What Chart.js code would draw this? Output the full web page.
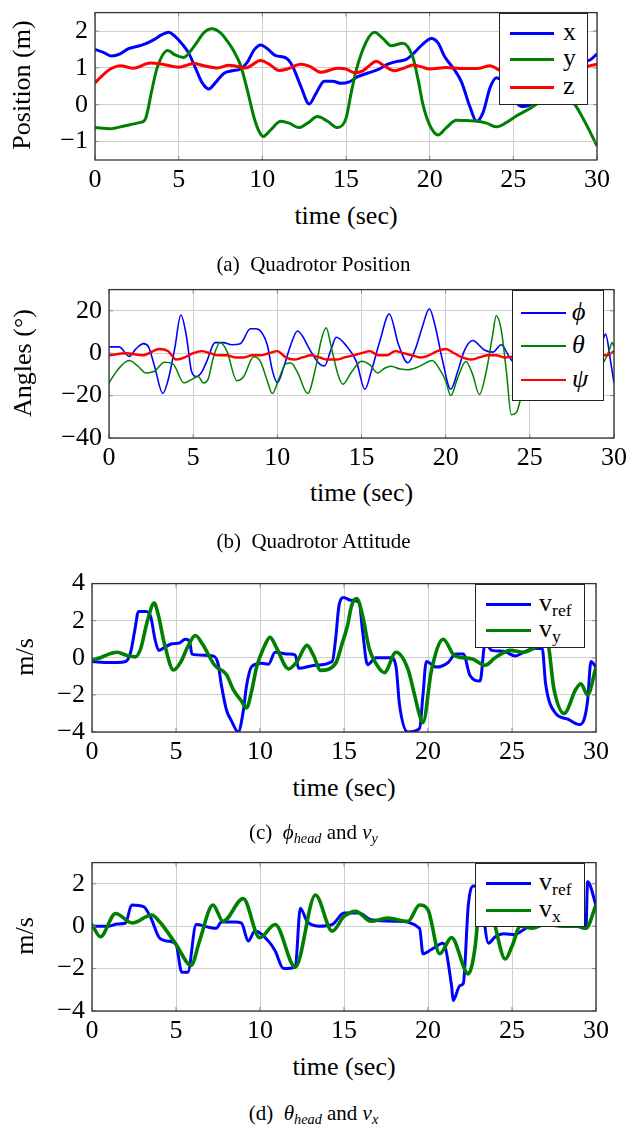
<!DOCTYPE html>
<html lang="en">
<head>
<meta charset="UTF-8">
<title>Quadrotor flight data</title>
<script src="https://cdn.jsdelivr.net/npm/chart.js"></script>
<style>
    body { margin: 0; background: #fff; }
    #fig { position: relative; width: 627px; height: 1127px; overflow: hidden; font-family: "Liberation Serif", "Times New Roman", Times, "DejaVu Serif", serif; color: #000; }
    .panel { position: absolute; left: 0; width: 660px; }
    .ylab { position: absolute; white-space: nowrap; font-size: 26px; line-height: 1; transform: translate(-50%, -50%) rotate(-90deg); }
    .xlab { position: absolute; font-size: 26px; line-height: 1; transform: translate(-50%, -50%); white-space: nowrap; }
    .cap { position: absolute; left: 0; width: 627px; text-align: center; font-size: 21px; line-height: 1; }
    .legend { position: absolute; background: #fff; border: 1.3px solid #222; box-sizing: border-box; }
    .legend .sw { position: absolute; }
    .legend .lb { position: absolute; font-size: 26px; line-height: 1; transform: translateY(-55%); white-space: nowrap; }
    sub { font-size: 0.68em; vertical-align: -0.3em; line-height: 0; }
</style>
</head>
<body>
<div id="fig">
    <div class="panel" id="pA"><canvas id="cA"></canvas></div>
    <div class="panel" id="pB"><canvas id="cB"></canvas></div>
    <div class="panel" id="pC"><canvas id="cC"></canvas></div>
    <div class="panel" id="pD"><canvas id="cD"></canvas></div>
</div>

<script>
    // time axis, shared by every panel
    const timeTicks = [0, 5, 10, 15, 20, 25, 30];

    // (a) quadrotor position, [time, metres]
    const posTicks = [-1, 0, 1, 2];
    const posX = [[0,1.5],[0.5,1.42],[1,1.32],[1.5,1.38],[2,1.52],[2.5,1.58],[3,1.65],[3.5,1.76],[4,1.9],[4.4,1.97],[4.8,1.85],[5.2,1.65],[5.6,1.4],[6,1.0],[6.4,0.6],[6.8,0.43],[7.2,0.6],[7.7,0.85],[8.2,0.92],[8.7,0.97],[9.1,1.15],[9.5,1.48],[9.9,1.62],[10.3,1.52],[10.8,1.33],[11.4,1.27],[11.8,1.05],[12.3,0.5],[12.8,0.02],[13.2,0.3],[13.7,0.64],[14.2,0.64],[14.7,0.58],[15.2,0.62],[15.7,0.76],[16.3,0.86],[16.9,0.95],[17.5,1.1],[18,1.17],[18.6,1.23],[19.1,1.42],[19.6,1.65],[20.1,1.8],[20.5,1.68],[20.9,1.3],[21.4,1.0],[21.9,0.62],[22.4,-0.05],[22.8,-0.45],[23.2,-0.2],[23.6,0.45],[24,0.73],[24.5,0.55],[25,0.15],[25.5,-0.05],[26,0.0],[26.5,0.3],[27,0.7],[27.5,1.0],[28,1.12],[28.6,1.15],[29.1,1.15],[29.6,1.22],[30,1.38]];
    const posY = [[0,-0.62],[0.9,-0.65],[1.8,-0.57],[2.7,-0.48],[3.0,-0.4],[3.4,0.4],[3.7,0.98],[4.35,1.47],[4.8,1.35],[5.3,1.28],[5.7,1.45],[6.1,1.7],[6.5,1.95],[6.97,2.06],[7.5,1.95],[7.9,1.73],[8.3,1.45],[8.7,1.07],[9.1,0.4],[9.5,-0.34],[9.8,-0.72],[10.06,-0.86],[10.5,-0.68],[11.1,-0.45],[11.6,-0.5],[12.2,-0.62],[12.7,-0.5],[13.3,-0.32],[13.9,-0.45],[14.5,-0.62],[15.0,-0.37],[15.3,0.3],[15.6,0.92],[16.2,1.7],[16.7,1.97],[17.2,1.8],[17.7,1.6],[18.4,1.67],[19.0,1.28],[19.3,0.7],[19.6,0.0],[20.0,-0.55],[20.5,-0.82],[21.0,-0.62],[21.6,-0.42],[22.2,-0.43],[22.8,-0.44],[23.4,-0.5],[24.0,-0.6],[24.6,-0.48],[25.2,-0.3],[26.0,-0.1],[26.5,0.05],[27.2,0.15],[28.0,0.2],[28.6,0.05],[29.2,-0.4],[29.6,-0.75],[30,-1.12]];
    const posZ = [[0,0.59],[0.5,0.82],[1,0.99],[1.5,1.06],[2.3,0.99],[3.3,1.13],[4,1.1],[5,1.02],[5.9,1.12],[6.5,1.06],[7.3,1.0],[8,1.07],[8.5,1.04],[9,1.0],[9.9,1.2],[10.5,1.07],[11,0.93],[11.5,0.97],[12.3,1.1],[12.8,1.05],[13.5,0.88],[14.5,0.99],[15,0.97],[15.5,0.87],[16,0.92],[16.5,1.1],[16.8,1.18],[17.3,1.05],[17.9,0.92],[18.5,1.0],[19,1.08],[19.5,1.03],[20,0.97],[21,1.01],[22,0.98],[23,0.99],[23.6,1.06],[24.2,0.93],[24.8,0.86],[25.5,0.86],[26.5,0.9],[27.5,0.95],[28.5,0.98],[29.2,1.01],[29.6,1.06],[30,1.1]];

    // (b) quadrotor attitude, [time, degrees]
    const angTicks = [-40, -20, 0, 20];
    const angPhi = [[0,3],[0.6,3],[1.2,-1.5],[1.6,2],[2.05,4.5],[2.35,3],[2.7,-6],[3.2,-19],[3.5,-13],[3.9,2],[4.27,18],[4.6,8],[4.9,-8.5],[5.2,-11],[5.5,-9],[5.8,-4],[6.3,5],[6.8,5],[7.3,4],[7.8,4.5],[8.4,11.5],[8.7,11.5],[9.0,10.5],[9.4,4],[9.7,-8],[10.0,-14],[10.4,-6],[10.8,4],[11.2,10.5],[11.5,8],[11.9,2],[12.5,-5],[12.8,-6],[13.2,2],[13.5,7.5],[14.1,3.5],[14.7,-4],[15.2,-17],[15.6,-8],[16.1,6],[16.65,18.5],[17.2,4],[17.75,-4.5],[18.2,2],[18.6,12],[19.03,21],[19.4,12],[19.8,-3],[20.3,-17],[20.7,-9],[21.1,1],[21.6,6],[22.3,1.5],[22.8,0.5],[23.3,4],[23.8,-2],[24.3,-6],[24.8,3],[25.5,10],[26.3,18],[27.0,24],[27.6,28],[28.2,20],[28.8,12],[29.3,6],[29.5,9],[29.8,-4],[30,-14]];
    const angTheta = [[0,-14],[0.5,-8],[1.2,-3.5],[1.7,-6],[2.2,-9.3],[2.7,-8.5],[3.3,-4.3],[3.8,-5],[4.45,-14],[5.0,-12],[5.3,-11],[5.6,-14],[5.9,-12],[6.2,-2],[6.6,5],[7.0,1],[7.6,-13],[8.0,-11],[8.6,-1.7],[9.0,-4],[9.4,-13],[9.7,-19],[10.1,-12],[10.5,-5],[10.8,-4.6],[11.2,-9],[11.8,-19],[12.3,-6],[12.6,6],[12.9,12],[13.2,3],[13.6,-10],[13.9,-14.6],[14.4,-9],[15.0,-3.8],[15.5,-5.5],[15.96,-9.3],[16.4,-7],[16.75,-6.2],[17.3,-7.5],[17.75,-7.8],[18.5,-6],[19.2,-3.4],[19.6,-7],[20.0,-13],[20.3,-20],[20.7,-12],[21.2,-3.9],[21.6,-10],[22.0,-19.5],[22.4,-9],[22.8,9],[23.0,17.7],[23.3,11],[23.6,-8],[23.9,-29],[24.2,-28],[24.6,-17],[25.2,-6],[26.0,0],[27.0,-4],[28.0,-8],[29.0,-7],[29.4,-4],[29.7,1],[29.9,5],[30,3]];
    const angPsi = [[0,-1],[1,0],[2,-1],[3,2],[3.5,1],[4,-3],[4.5,-2],[5,0],[5.5,1],[6,0],[6.5,-1],[7,-1],[7.5,-2],[8,-2],[8.5,-1],[9,-1],[9.5,0],[10,1],[10.5,-2],[11,-3],[11.5,-2],[12,-1],[12.5,-2],[13,-3],[13.5,-3],[14,-2],[14.5,-1],[15,0],[15.5,1],[16,-1],[16.5,-1],[17,1],[17.5,0],[18,-1],[18.5,-2],[19,-1],[19.5,1],[20,2],[20.5,0],[21,-2],[21.5,-3],[22,-2],[22.5,-1],[23,-1],[23.5,-2],[24.5,-1],[25.5,0],[26.5,-1],[27.5,0],[28.5,-1],[29.3,-1],[29.6,-1],[30,1]];

    // (c) phi_head and v_y, [time, m/s]
    const velTicksC = [-4, -2, 0, 2, 4];
    const refC = [[0,-0.2],[1,-0.25],[1.5,-0.25],[2,-0.2],[2.3,0.3],[2.55,1.5],[2.77,2.5],[3.2,2.5],[3.5,2.2],[3.75,1.0],[3.97,0.4],[4.3,0.55],[4.76,0.76],[5.2,0.8],[5.55,1.0],[5.8,0.9],[5.95,0.2],[6.7,0.14],[7.2,0.1],[7.5,-0.3],[7.7,-1.46],[8.0,-2.8],[8.3,-3.4],[8.7,-4.0],[9.0,-2.9],[9.2,-1.5],[9.5,-0.48],[10.1,-0.3],[10.5,-0.35],[10.9,0.3],[11.7,0.2],[12.1,0.15],[12.3,-0.57],[13.3,-0.4],[14.3,-0.2],[14.5,1.0],[14.7,2.8],[14.98,3.25],[15.4,3.1],[15.9,3.0],[16.1,1.5],[16.4,-0.37],[16.9,0],[17.8,0],[18.1,-0.5],[18.3,-2.5],[18.8,-4.0],[19.5,-3.8],[19.7,-2.0],[19.9,-0.2],[20.5,-0.5],[21.2,-0.25],[21.65,0.2],[22.1,0.2],[22.5,-0.95],[23.1,-1.25],[23.4,0.8],[23.8,0.4],[24.5,0.35],[25.2,0.1],[25.7,0.3],[26.3,0.5],[26.8,0.5],[27.0,-1.4],[27.6,-3.0],[28.3,-3.3],[29.0,-3.6],[29.3,-3.3],[29.5,-2.3],[29.7,-0.2],[30,-0.5]];
    const velYC = [[0,-0.1],[0.5,0.0],[1,0.2],[1.5,0.3],[2,0.15],[2.58,0.05],[2.9,0.5],[3.3,2.0],[3.7,2.95],[3.95,2.3],[4.3,0.8],[4.86,-0.66],[5.3,-0.2],[5.7,0.6],[6.15,1.2],[6.6,0.7],[7.3,-0.4],[8.0,-0.9],[8.4,-1.7],[8.9,-2.34],[9.2,-2.7],[9.5,-1.8],[9.8,-0.5],[10.2,0.5],[10.6,1.1],[11.0,0.5],[11.7,-0.6],[12.2,-0.2],[12.8,0.67],[13.2,0.1],[13.6,-0.68],[14.5,-0.3],[14.9,0.8],[15.2,1.7],[15.45,2.8],[15.75,3.2],[16.1,2.3],[16.5,0.5],[16.9,-0.3],[17.4,-0.8],[18.1,0.3],[18.8,-0.6],[19.2,-2.0],[19.5,-3.1],[19.7,-3.5],[20.2,-0.7],[20.9,1.0],[21.6,0.1],[22.6,-0.05],[23.4,-0.4],[24.0,0],[24.9,0.4],[25.7,0.3],[26.5,0.6],[27.1,0.8],[27.5,-1.7],[28.1,-3.0],[28.8,-1.7],[29.1,-1.4],[29.5,-2.0],[30,-0.5]];

    // (d) theta_head and v_x, [time, m/s]
    const velTicksD = [-4, -2, 0, 2];
    const refD = [[0,0.0],[1,0.0],[1.5,0.1],[2,0.15],[2.36,1.0],[3.07,0.92],[3.5,0.4],[4.0,-0.54],[4.5,-0.7],[5.0,-0.85],[5.34,-2.17],[5.7,-2.17],[6.2,0.08],[6.9,-0.04],[7.4,-0.1],[7.7,0.2],[8.5,0.2],[8.9,0.15],[9.3,-0.7],[9.7,-0.23],[10.5,-0.7],[10.9,-1.16],[11.4,-2.0],[12.1,-1.93],[12.4,0.85],[12.8,0.23],[13.5,0],[14.3,0.08],[15.0,0.62],[15.9,0.62],[16.6,0.3],[18.1,0.23],[19.5,-0.1],[19.7,-1.3],[20.2,-1.1],[20.9,-0.8],[21.4,-2.8],[21.5,-3.5],[21.9,-2.8],[22.1,-2.7],[22.4,1.0],[22.7,1.9],[23.1,1.6],[23.6,-0.8],[24.0,-0.5],[24.5,-0.36],[25.2,-0.4],[25.5,-0.26],[26.5,0.2],[27.5,0.3],[28.5,0.1],[29.4,-0.1],[29.5,2.1],[30,1.0]];
    const velXD = [[0,0.08],[0.5,-0.5],[1.4,0.6],[2.4,0.15],[3.55,0.53],[4.0,0.23],[5.0,-0.85],[5.9,-1.85],[6.4,-0.7],[7.2,1.0],[7.8,0.23],[9.0,1.3],[9.98,-0.54],[10.9,0.08],[12.1,-1.93],[13.3,1.47],[14.3,-0.23],[15.0,0.46],[15.7,0.7],[16.6,0.23],[17.6,0.38],[18.8,0.23],[19.5,1.0],[20.0,0.77],[20.7,-1.3],[21.4,-0.54],[22.4,-2.25],[22.8,-1.0],[23.3,2.9],[23.6,1.5],[24.0,0],[24.6,-1.55],[25.0,-0.95],[25.5,0],[26.2,-0.1],[27.0,0.1],[28.0,0.0],[29.0,0.0],[29.4,-0.1],[30,1.0]];

    const BLUE = '#0000ff', GREEN = '#008000', RED = '#ff0000';
    const FONT = '"Liberation Serif", "Times New Roman", Times, "DejaVu Serif", serif';
    Chart.defaults.font.family = FONT;

    const PT = 20, XH = 40, CW = 660;

    // frame and inward tick marks, like pgfplots
    const framePlugin = {
        id: 'frame',
        afterDatasetsDraw(chart) {
            const { ctx, chartArea: a, scales } = chart;
            ctx.save();
            ctx.strokeStyle = '#888';
            ctx.lineWidth = 1;
            ctx.beginPath();
            scales.x.ticks.forEach(t => {
                const px = scales.x.getPixelForValue(t.value);
                ctx.moveTo(px, a.bottom); ctx.lineTo(px, a.bottom - 4);
                ctx.moveTo(px, a.top); ctx.lineTo(px, a.top + 4);
            });
            scales.y.ticks.forEach(t => {
                const py = scales.y.getPixelForValue(t.value);
                ctx.moveTo(a.left, py); ctx.lineTo(a.left + 4, py);
                ctx.moveTo(a.right, py); ctx.lineTo(a.right - 4, py);
            });
            ctx.stroke();
            ctx.strokeStyle = '#333';
            ctx.lineWidth = 1.3;
            ctx.strokeRect(a.left, a.top, a.right - a.left, a.bottom - a.top);
            ctx.restore();
        }
    };

    function line(pts, color, width, order) {
        return {
            data: pts.map(([x, y]) => ({ x, y })),
            borderColor: color,
            borderWidth: width,
            pointRadius: 0,
            cubicInterpolationMode: 'monotone',
            order: order
        };
    }

    function tickFont() { return { family: FONT, size: 26 }; }

    function makePanel(id, box, yMin, yMax, yTicks, datasets) {
        const wrap = document.getElementById('p' + id);
        wrap.style.top = (box.top - PT) + 'px';
        wrap.style.height = (box.bottom - box.top + PT + XH) + 'px';
        return new Chart(document.getElementById('c' + id), {
            type: 'line',
            data: { datasets },
            options: {
                responsive: true,
                maintainAspectRatio: false,
                animation: false,
                layout: { padding: { left: 0, top: PT, right: CW - box.right, bottom: 0 } },
                plugins: { legend: { display: false }, tooltip: { enabled: false } },
                scales: {
                    x: {
                        type: 'linear', min: 0, max: 30,
                        afterFit: s => { s.height = XH; },
                        afterBuildTicks: s => { s.ticks = timeTicks.map(v => ({ value: v })); },
                        ticks: { font: tickFont(), color: '#000', padding: 5, maxRotation: 0 },
                        grid: { color: '#cfcfcf', lineWidth: 1, drawTicks: false },
                        border: { display: false }
                    },
                    y: {
                        min: yMin, max: yMax,
                        afterFit: s => { s.width = box.left; },
                        afterBuildTicks: s => { s.ticks = yTicks.map(v => ({ value: v })); },
                        ticks: { font: tickFont(), color: '#000', padding: 7,
                                 callback: v => String(v).replace('-', '\u2212') },
                        grid: { color: '#cfcfcf', lineWidth: 1, drawTicks: false },
                        border: { display: false }
                    }
                }
            },
            plugins: [framePlugin]
        });
    }

    const fig = document.getElementById('fig');
    function addText(cls, html, x, y) {
        const d = document.createElement('div');
        d.className = cls;
        d.innerHTML = html;
        if (x !== null) d.style.left = x + 'px';
        d.style.top = y + 'px';
        fig.appendChild(d);
        return d;
    }

    function addLegend(lg, items) {
        const d = document.createElement('div');
        d.className = 'legend';
        Object.assign(d.style, { left: lg.left + 'px', top: lg.top + 'px', width: lg.width + 'px', height: lg.height + 'px' });
        items.forEach((it, i) => {
            const sw = document.createElement('div');
            sw.className = 'sw';
            Object.assign(sw.style, {
                left: (lg.x1 - lg.left) + 'px', width: (lg.x2 - lg.x1) + 'px',
                top: (lg.rows[i] - lg.top - lg.lw / 2) + 'px', height: lg.lw + 'px', background: it.color
            });
            d.appendChild(sw);
            const lb = document.createElement('div');
            lb.className = 'lb';
            lb.innerHTML = it.label;
            Object.assign(lb.style, { left: (lg.tx - lg.left) + 'px', top: (lg.rows[i] - lg.top) + 'px' });
            d.appendChild(lb);
        });
        fig.appendChild(d);
    }

    // panel geometry
    const boxA = { left: 95, top: 10, right: 597, bottom: 160 };
    const boxB = { left: 109, top: 287, right: 614, bottom: 438 };
    const boxC = { left: 92, top: 581, right: 596, bottom: 732 };
    const boxD = { left: 92, top: 860, right: 596, bottom: 1011 };

    makePanel('A', boxA, -1.5, 2.5, posTicks, [
        line(posX, BLUE, 3, 2), line(posY, GREEN, 3, 1), line(posZ, RED, 3, 0)
    ]);
    makePanel('B', boxB, -40, 30, angTicks, [
        line(angPhi, BLUE, 1.6, 2), line(angTheta, GREEN, 1.5, 1), line(angPsi, RED, 2.4, 0)
    ]);
    makePanel('C', boxC, -4, 4, velTicksC, [
        line(refC, BLUE, 3, 1), line(velYC, GREEN, 3.6, 0)
    ]);
    makePanel('D', boxD, -4, 3, velTicksD, [
        line(refD, BLUE, 3, 1), line(velXD, GREEN, 3.6, 0)
    ]);

    // axis labels
    addText('ylab', 'Position (m)', 22, (boxA.top + boxA.bottom) / 2);
    addText('ylab', 'Angles (°)', 23, (boxB.top + boxB.bottom) / 2);
    addText('ylab', 'm/s', 25, (boxC.top + boxC.bottom) / 2);
    addText('ylab', 'm/s', 25, (boxD.top + boxD.bottom) / 2);
    addText('xlab', 'time (sec)', (boxA.left + boxA.right) / 2, 216);
    addText('xlab', 'time (sec)', (boxB.left + boxB.right) / 2, 493);
    addText('xlab', 'time (sec)', (boxC.left + boxC.right) / 2, 788);
    addText('xlab', 'time (sec)', (boxD.left + boxD.right) / 2, 1067);

    // captions
    addText('cap', '(a)&nbsp; Quadrotor Position', null, 254);
    addText('cap', '(b)&nbsp; Quadrotor Attitude', null, 531);
    addText('cap', '(c)&nbsp; <i>ϕ</i><sub><i>head</i></sub> and <i>v</i><sub><i>y</i></sub>', null, 822);
    addText('cap', '(d)&nbsp; <i>θ</i><sub><i>head</i></sub> and <i>v</i><sub><i>x</i></sub>', null, 1103);

    // legends
    addLegend({ left: 499, top: 13, width: 89, height: 92, rows: [32, 58, 86], x1: 509, x2: 553, tx: 562, lw: 3 },
        [{ label: 'x', color: BLUE }, { label: 'y', color: GREEN }, { label: 'z', color: RED }]);
    addLegend({ left: 512, top: 290, width: 92, height: 111, rows: [312, 345, 379], x1: 520, x2: 565, tx: 571, lw: 1.3 },
        [{ label: '<i>ϕ</i>', color: BLUE }, { label: '<i>θ</i>', color: GREEN }, { label: '<i>ψ</i>', color: RED }]);
    addLegend({ left: 475, top: 584, width: 110, height: 64, rows: [603, 629], x1: 485, x2: 530, tx: 538, lw: 3 },
        [{ label: 'v<sub>ref</sub>', color: BLUE }, { label: 'v<sub>y</sub>', color: GREEN }]);
    addLegend({ left: 475, top: 863, width: 110, height: 64, rows: [882, 909], x1: 485, x2: 530, tx: 538, lw: 3 },
        [{ label: 'v<sub>ref</sub>', color: BLUE }, { label: 'v<sub>x</sub>', color: GREEN }]);
</script>
</body>
</html>
